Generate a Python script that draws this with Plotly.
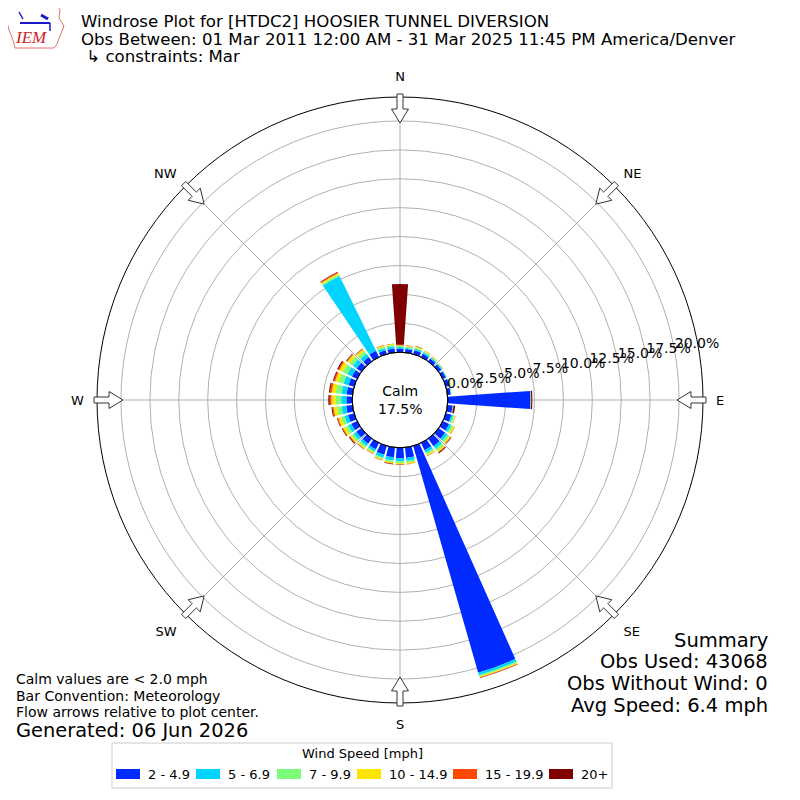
import math
import plotly.graph_objects as go

# direction bins (degrees, meteorological, 10 deg bins)
directions = [0, 10, 20, 30, 40, 50, 60, 70, 80, 90, 100, 110, 120, 130, 140, 150, 160, 170,
              180, 190, 200, 210, 220, 230, 240, 250, 260, 270, 280, 290, 300, 310, 320, 330, 340, 350]

speed_bins = ["2 - 4.9", "5 - 6.9", "7 - 9.9", "10 - 14.9", "15 - 19.9", "20+"]
bin_colors = ["#002aff", "#00d4ff", "#7bff7b", "#ffe600", "#ff4800", "#800000"]

# frequency [%] per direction, one list per speed bin
pct_2_5 = [0.30, 0.30, 0.35, 0.32, 0.30, 0.30, 0.28, 0.32, 0.28, 7.15, 0.45, 0.50, 0.60, 0.70, 0.80, 0.70, 20.40, 0.90,
           0.90, 0.85, 0.80, 0.60, 0.55, 0.55, 0.55, 0.55, 0.55, 0.50, 0.50, 0.50, 0.50, 0.50, 0.45, 0.60, 0.35, 0.35]
pct_5_7 = [0.15, 0.12, 0.15, 0.13, 0.12, 0.10, 0.07, 0.08, 0.05, 0.03, 0.03, 0.15, 0.22, 0.25, 0.28, 0.25, 0.23, 0.28,
           0.28, 0.28, 0.26, 0.22, 0.25, 0.28, 0.30, 0.32, 0.40, 0.45, 0.45, 0.45, 0.45, 0.40, 0.35, 7.20, 0.20, 0.20]
pct_7_10 = [0.10, 0.10, 0.12, 0.10, 0.08, 0.06, 0.03, 0.05, 0.02, 0.02, 0.02, 0.12, 0.18, 0.20, 0.22, 0.18, 0.12, 0.15,
            0.15, 0.15, 0.13, 0.14, 0.18, 0.22, 0.28, 0.30, 0.40, 0.50, 0.50, 0.45, 0.45, 0.35, 0.30, 0.15, 0.15, 0.12]
pct_10_15 = [0.05, 0.07, 0.08, 0.06, 0.05, 0.03, 0.02, 0.03, 0.01, 0.01, 0.01, 0.08, 0.12, 0.13, 0.15, 0.10, 0.08, 0.10,
             0.10, 0.10, 0.08, 0.08, 0.12, 0.15, 0.22, 0.25, 0.30, 0.35, 0.35, 0.30, 0.30, 0.25, 0.20, 0.12, 0.10, 0.08]
pct_15_20 = [0.05, 0.03, 0.03, 0.02, 0.02, 0.01, 0.00, 0.01, 0.00, 0.01, 0.01, 0.02, 0.03, 0.05, 0.05, 0.03, 0.05, 0.03,
             0.03, 0.04, 0.03, 0.03, 0.04, 0.06, 0.08, 0.08, 0.10, 0.15, 0.15, 0.12, 0.12, 0.08, 0.05, 0.08, 0.03, 0.03]
pct_20_up = [5.25, 0.00, 0.01, 0.01, 0.00, 0.00, 0.00, 0.00, 0.00, 0.10, 0.15, 0.00, 0.01, 0.05, 0.08, 0.01, 0.02, 0.01,
             0.02, 0.05, 0.02, 0.01, 0.02, 0.08, 0.05, 0.05, 0.08, 0.12, 0.10, 0.08, 0.10, 0.05, 0.03, 0.05, 0.01, 0.01]

calm_pct = 17.5
radial_ticks = [0, 2.5, 5, 7.5, 10, 12.5, 15, 17.5, 20]
compass_deg = [0, 45, 90, 135, 180, 225, 270, 315]
compass_labels = ["N", "NE", "E", "SE", "S", "SW", "W", "NW"]

title_lines = [
    "Windrose Plot for [HTDC2] HOOSIER TUNNEL DIVERSION",
    "Obs Between: 01 Mar 2011 12:00 AM - 31 Mar 2025 11:45 PM America/Denver",
    " \u21b3 constraints: Mar",
]
notes = ["Calm values are < 2.0 mph", "Bar Convention: Meteorology", "Flow arrows relative to plot center."]
summary = ["Summary", "Obs Used: 43068", "Obs Without Wind: 0", "Avg Speed: 6.4 mph"]

FONT = "DejaVu Sans"
OFF = 8  # page body margin
W = H = 800 - OFF
CX, CY, R_OUT, R_HOLE = 400, 400, 303, 47.8


def px(x, y):
    # screen pixel -> paper coords
    return (x - OFF) / W, 1 - (y - OFF) / H


def path_of(points, close=True):
    s = "M " + " L ".join("%.5f,%.5f" % px(x, y) for x, y in points)
    return s + (" Z" if close else "")


def main():
    fig = go.Figure()

    series = [pct_2_5, pct_5_7, pct_7_10, pct_10_15, pct_15_20, pct_20_up]
    for name, color, vals in zip(speed_bins, bin_colors, series):
        fig.add_trace(
            go.Barpolar(
                r=vals,
                theta=directions,
                width=8,
                name=name,
                marker=dict(color=color, line=dict(width=0)),
                showlegend=False,
            )
        )

    # radial tick labels
    fig.add_trace(
        go.Scatterpolar(
            r=radial_ticks,
            theta=[80] * len(radial_ticks),
            mode="text",
            text=["%.1f%%" % t for t in radial_ticks],
            textposition="top right",
            textfont=dict(family=FONT, size=14, color="black"),
            showlegend=False,
            hoverinfo="skip",
        )
    )

    r_max = (R_OUT - R_HOLE) / ((279 - 76.7) / 17.5)
    dx0, dy1 = px(CX - R_OUT, CY - R_OUT)
    dx1, dy0 = px(CX + R_OUT, CY + R_OUT)
    fig.update_layout(
        width=W,
        height=H,
        margin=dict(l=0, r=0, t=0, b=0),
        paper_bgcolor="white",
        font=dict(family=FONT, color="black"),
        polar=dict(
            domain=dict(x=[dx0, dx1], y=[dy0, dy1]),
            bgcolor="white",
            hole=R_HOLE / R_OUT,
            barmode="stack",
            radialaxis=dict(
                range=[0, r_max],
                tickvals=radial_ticks,
                showticklabels=False,
                ticks="",
                showline=False,
                gridcolor="#b0b0b0",
                gridwidth=1,
            ),
            angularaxis=dict(
                rotation=90,
                direction="clockwise",
                tickvals=compass_deg,
                ticktext=compass_labels,
                tickfont=dict(family=FONT, size=13),
                ticks="outside",
                ticklen=10,
                tickcolor="rgba(0,0,0,0)",
                showline=True,
                linecolor="black",
                linewidth=1,
                gridcolor="#b0b0b0",
                gridwidth=1,
            ),
        ),
    )

    shapes = []
    # calm circle edge
    x0, y0 = px(CX - R_HOLE, CY + R_HOLE)
    x1, y1 = px(CX + R_HOLE, CY - R_HOLE)
    shapes.append(dict(type="circle", xref="paper", yref="paper", x0=x0, y0=y0, x1=x1, y1=y1,
                       line=dict(color="black", width=1)))

    # hollow flow arrows on the rim
    outline = [(306, -3), (291, -3), (291, -8.5), (277, 0), (291, 8.5), (291, 3), (306, 3)]
    for b in compass_deg:
        a = math.radians(b)
        ux, uy = math.sin(a), -math.cos(a)
        vx, vy = math.cos(a), math.sin(a)
        pts = [(CX + r * ux + off * vx, CY + r * uy + off * vy) for r, off in outline]
        shapes.append(dict(type="path", xref="paper", yref="paper", path=path_of(pts),
                           fillcolor="white", line=dict(color="#333333", width=1)))

    # legend box + swatches
    lx0, ly0 = px(112, 788)
    lx1, ly1 = px(612, 743)
    shapes.append(dict(type="rect", xref="paper", yref="paper", x0=lx0, y0=ly0, x1=lx1, y1=ly1,
                       line=dict(color="#cccccc", width=1), fillcolor="white"))
    swatch_x = [116, 196, 277, 357, 453, 549]
    annotations = []
    for sx, color, name in zip(swatch_x, bin_colors, speed_bins):
        a0, b0 = px(sx, 779)
        a1, b1 = px(sx + 24, 769)
        shapes.append(dict(type="rect", xref="paper", yref="paper", x0=a0, y0=b0, x1=a1, y1=b1,
                           line=dict(width=0), fillcolor=color))
        tx, ty = px(sx + 30, 774)
        annotations.append(dict(x=tx, y=ty, text=name, xanchor="left", yanchor="middle",
                                font=dict(size=13)))
    tx, ty = px(362, 753)
    annotations.append(dict(x=tx, y=ty, text="Wind Speed [mph]", xanchor="center", yanchor="middle",
                            font=dict(size=13)))

    # title
    for i, line in enumerate(title_lines):
        tx, ty = px(79, 21 + 18 * i)
        annotations.append(dict(x=tx, y=ty, text=line, xanchor="left", yanchor="middle",
                                font=dict(size=16.6)))

    # calm label
    tx, ty = px(CX, CY)
    annotations.append(dict(x=tx, y=ty, text="Calm<br>%.1f%%" % calm_pct, xanchor="center",
                            yanchor="middle", font=dict(size=14), align="center"))

    # notes bottom left
    for i, line in enumerate(notes):
        tx, ty = px(14, 679 + 16.5 * i)
        annotations.append(dict(x=tx, y=ty, text=line, xanchor="left", yanchor="middle",
                                font=dict(size=14)))
    tx, ty = px(14, 730)
    annotations.append(dict(x=tx, y=ty, text="Generated: 06 Jun 2026", xanchor="left",
                            yanchor="middle", font=dict(size=19.4)))

    # summary bottom right
    for i, line in enumerate(summary):
        tx, ty = px(770, 640 + 21.7 * i)
        annotations.append(dict(x=tx, y=ty, text=line, xanchor="right", yanchor="middle",
                                font=dict(size=19.5)))

    # IEM logo stand-in
    tx, ty = px(31, 38)
    annotations.append(dict(x=tx, y=ty, text="<i>IEM</i>", xanchor="center", yanchor="middle",
                            font=dict(size=17, family="Liberation Serif", color="#cc2222")))
    iowa = [(7, 5), (57, 5), (60, 10), (59, 18), (64, 26), (60, 36), (57, 44), (54, 48),
            (15, 48), (13, 40), (9, 30), (6, 18)]
    shapes.append(dict(type="path", xref="paper", yref="paper", path=path_of(iowa),
                       line=dict(color="#e07070", width=1)))
    shapes.append(dict(type="path", xref="paper", yref="paper",
                       path=path_of([(20, 23), (50, 23)], close=False),
                       line=dict(color="#1a1acc", width=2)))
    shapes.append(dict(type="path", xref="paper", yref="paper",
                       path=path_of([(19, 12), (23, 19)], close=False),
                       line=dict(color="#1a1acc", width=1.5)))
    shapes.append(dict(type="path", xref="paper", yref="paper",
                       path=path_of([(41, 15), (48, 19)], close=False),
                       line=dict(color="#1a1acc", width=3)))
    shapes.append(dict(type="path", xref="paper", yref="paper",
                       path=path_of([(50, 23), (50, 31)], close=False),
                       line=dict(color="#1a1acc", width=1.5)))

    for a in annotations:
        a.update(xref="paper", yref="paper", showarrow=False)
    fig.update_layout(shapes=shapes, annotations=annotations)

    fig.write_html("out.html")


if __name__ == "__main__":
    main()
